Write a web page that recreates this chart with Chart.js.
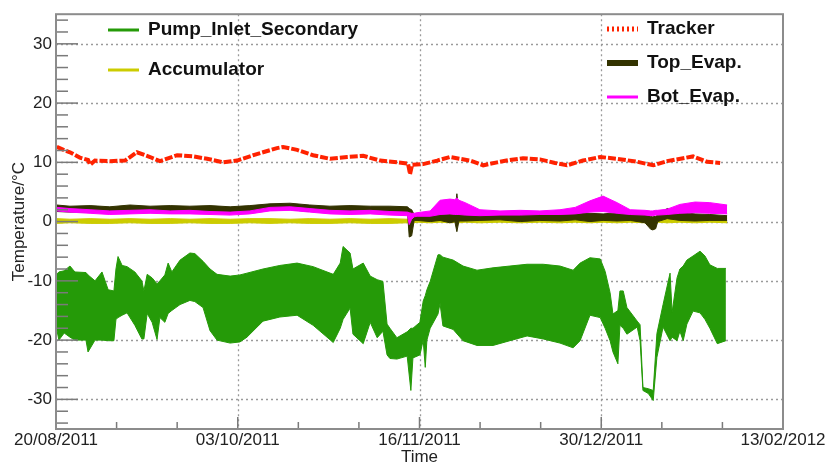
<!DOCTYPE html>
<html>
<head>
<meta charset="utf-8">
<script src="https://cdn.jsdelivr.net/npm/chart.js@4.4.1/dist/chart.umd.min.js"></script>
<style>
html, body { margin: 0; padding: 0; background: #fff; }
#wrap { width: 827px; height: 466px; }
</style>
</head>
<body>
<div id="wrap"><canvas id="temps"></canvas></div>
<script>
// x values are days since 20/08/2011
const xTickDays = [0, 44.25, 88.5, 132.75, 177];
const xTickLabels = ['20/08/2011', '03/10/2011', '16/11/2011', '30/12/2011', '13/02/2012'];
const yTicks = [-30, -20, -10, 0, 10, 20, 30];

// Pump_Inlet_Secondary: upper and lower edge of the oscillating band
const pumpDays = [
  0.0, 0.7, 2.0, 3.4, 4.6, 7.3, 7.8, 9.5, 11.2, 12.7,
  14.1, 14.6, 15.1, 16.1, 17.3, 19.2, 20.9, 21.4, 22.2, 23.4,
  24.6, 25.3, 26.5, 27.3, 28.2, 30.2, 32.6, 33.8, 35.8, 37.5,
  39.2, 42.4, 44.8, 46.5, 50.4, 54.5, 58.7, 62.6, 67.5, 69.2,
  69.9, 71.6, 72.3, 74.8, 76.5, 78.2, 79.6, 80.6, 81.3, 83.0,
  85.5, 86.4, 86.9, 88.6, 89.4, 89.9, 90.3, 91.1, 93.0, 93.5,
  94.2, 96.7, 99.1, 102.5, 106.4, 110.5, 114.7, 118.6, 122.7, 125.9,
  127.6, 130.0, 132.5, 133.7, 134.9, 135.6, 136.8, 137.3, 138.1, 139.0,
  141.5, 142.2, 142.9, 144.2, 145.4, 146.3, 147.8, 149.5, 150.0, 151.2,
  151.9, 152.7, 153.6, 155.1, 156.8, 158.0, 159.2, 161.0, 163.1
];
const pumpHigh = [
  -9.0, -8.5, -8.3, -7.5, -8.5, -8.6, -9.0, -10.0, -8.5, -11.5,
  -11.7, -8.0, -5.9, -7.4, -7.6, -8.5, -10.0, -11.7, -8.9, -9.5,
  -10.5, -10.0, -9.0, -7.0, -8.5, -6.5, -5.3, -5.4, -6.7, -8.0,
  -8.9, -9.2, -9.0, -8.7, -8.0, -7.4, -7.0, -7.6, -8.9, -7.0,
  -4.2, -5.3, -8.0, -7.0, -9.2, -9.8, -10.1, -17.3, -18.0, -19.6,
  -18.6, -18.0, -18.0, -17.0, -13.4, -12.5, -11.5, -10.1, -5.6, -5.6,
  -6.0, -6.5, -7.5, -8.2, -7.8, -7.5, -7.2, -7.2, -7.5, -8.2,
  -7.0, -6.1, -6.3, -8.4, -12.0, -15.6, -15.0, -11.7, -11.7, -14.5,
  -16.8, -17.4, -28.0, -28.2, -28.5, -18.9, -14.0, -8.7, -15.3, -9.5,
  -8.0, -7.5, -6.5, -5.8, -5.0, -5.8, -7.3, -7.9, -7.9
];
const pumpLow = [
  -17.5, -20.0, -18.8, -19.5, -20.0, -20.0, -22.0, -20.0, -20.0, -20.1,
  -20.1, -16.5, -16.2, -15.8, -15.4, -17.5, -19.8, -19.8, -15.5, -17.0,
  -19.9, -16.2, -17.0, -15.5, -15.0, -14.0, -13.3, -13.5, -14.5, -18.4,
  -20.0, -20.5, -20.3, -19.5, -16.8, -16.1, -15.8, -17.5, -20.4, -18.0,
  -16.5, -14.6, -19.0, -20.6, -17.0, -19.6, -18.5, -22.5, -23.1, -23.2,
  -22.7, -28.5, -23.0, -22.5, -20.0, -24.6, -20.0, -18.0, -15.6, -13.8,
  -17.6, -18.2, -20.1, -20.9, -20.9, -20.1, -19.3, -19.8, -20.5, -21.3,
  -20.1, -15.8, -16.2, -18.0, -20.1, -22.0, -24.0, -17.5, -18.0, -19.0,
  -17.8, -20.1, -28.5, -29.0, -30.2, -22.9, -17.8, -20.1, -19.5, -20.1,
  -18.5, -20.1, -17.3, -15.1, -15.4, -16.5, -18.0, -20.6, -20.1
];

// Tracker
const trackerDays = [
  0.2, 2.2, 3.4, 5.8, 7.8, 8.3, 9.5, 13.1, 16.8, 19.7,
  22.9, 25.3, 29.5, 33.4, 36.8, 40.7, 44.1, 48.9, 53.8, 55.3,
  58.7, 62.6, 66.7, 70.9, 74.8, 78.9, 83.0, 85.7, 86.2, 86.7,
  89.4, 92.8, 95.9, 100.8, 104.0, 107.4, 110.5, 113.7, 117.8, 121.5,
  124.4, 128.3, 132.5, 136.6, 141.5, 145.4, 148.8, 152.7, 155.1, 158.5,
  161.7
];
const trackerTemp = [
  12.6, 12.0, 11.7, 10.8, 10.4, 9.6, 10.3, 10.2, 10.3, 11.7,
  10.9, 10.2, 11.2, 11.0, 10.6, 10.0, 10.3, 11.4, 12.4, 12.6,
  12.1, 11.2, 10.6, 10.9, 11.1, 10.3, 10.0, 9.8, 8.0, 9.6,
  9.7, 10.3, 10.9, 10.3, 9.5, 10.0, 10.4, 10.7, 10.5, 9.9,
  9.5, 10.3, 10.9, 10.6, 10.1, 9.5, 10.2, 10.7, 11.0, 10.1,
  9.9
];

// Top_Evap., Bot_Evap. and Accumulator: noisy bands, shared day grid
const evapDays = [
  0.2, 3.4, 8.3, 13.1, 18.0, 22.9, 27.8, 32.6, 37.5, 42.4,
  47.2, 52.1, 57.0, 61.8, 66.7, 71.6, 76.5, 81.3, 85.6, 86.0,
  86.6, 87.2, 87.9, 91.1, 93.5, 95.9, 97.1, 97.6, 98.1, 99.6,
  103.2, 108.1, 113.0, 117.8, 122.7, 126.4, 130.0, 133.2, 136.6, 139.8,
  143.4, 144.8, 145.3, 146.0, 146.5, 148.8, 151.9, 155.6, 159.2, 163.4
];
const topEvapHigh = [
  2.8, 2.6, 2.7, 2.5, 2.8, 2.6, 2.7, 2.6, 2.7, 2.5,
  2.7, 3.0, 3.1, 2.8, 2.6, 2.7, 2.6, 2.6, 2.5, 2.2,
  2.0, 1.2, 1.0, 1.2, 1.3, 1.2, 1.4, 4.7, 1.5, 1.4,
  1.2, 1.5, 1.3, 1.4, 1.3, 1.5, 1.4, 1.3, 1.5, 1.3,
  1.2, 0.9, 0.8, 0.9, 1.1, 2.2, 1.6, 1.3, 1.2, 1.0
];
const topEvapLow = [
  1.7, 1.6, 1.6, 1.5, 1.6, 1.6, 1.5, 1.6, 1.5, 1.4,
  1.6, 1.9, 2.0, 1.7, 1.6, 1.5, 1.5, 1.5, 1.4, -2.6,
  -2.4, 0.2, 0.2, 0.0, 0.2, -0.2, 0.0, -1.7, 0.1, 0.1,
  0.2, 0.3, 0.0, 0.2, 0.1, 0.3, 0.0, 0.2, 0.1, 0.2,
  -0.2, -1.3, -1.4, -1.2, 0.0, 0.5, 0.2, 0.1, 0.2, 0.2
];
const botEvapHigh = [
  2.4, 2.2, 2.0, 1.8, 1.9, 2.0, 1.8, 1.9, 1.7, 1.6,
  1.8, 2.4, 2.5, 2.2, 1.9, 1.8, 1.9, 1.7, 1.6, 1.5,
  1.4, 1.4, 1.5, 1.8, 3.6, 3.8, 3.7, 4.0, 3.6, 3.2,
  2.0, 1.8, 1.9, 1.8, 2.0, 2.4, 3.5, 4.3, 3.2, 2.0,
  1.9, 1.8, 1.8, 1.9, 1.9, 2.1, 2.9, 3.3, 3.2, 2.8
];
const botEvapLow = [
  1.8, 1.6, 1.4, 1.2, 1.3, 1.4, 1.3, 1.3, 1.2, 1.1,
  1.3, 1.8, 1.9, 1.6, 1.3, 1.2, 1.3, 1.1, 1.0, -0.5,
  0.4, 0.8, 0.9, 0.9, 1.2, 1.3, 1.2, 1.2, 1.2, 1.1,
  1.0, 1.1, 1.1, 1.2, 1.2, 1.3, 1.6, 1.7, 1.4, 1.2,
  1.1, 1.0, 1.0, 1.1, 1.1, 1.2, 1.4, 1.5, 1.4, 1.3
];
const accumHigh = [
  0.5, 0.4, 0.5, 0.4, 0.5, 0.4, 0.5, 0.4, 0.5, 0.4,
  0.5, 0.5, 0.4, 0.5, 0.4, 0.5, 0.4, 0.5, 0.4, 0.4,
  0.4, 0.5, 0.6, 0.6, 0.7, 0.6, 0.6, 0.6, 0.7, 0.6,
  0.6, 0.7, 0.6, 0.7, 0.6, 0.6, 0.7, 0.6, 0.6, 0.6,
  0.5, 0.5, 0.6, 0.6, 0.7, 0.6, 0.7, 0.6, 0.7, 0.6
];
const accumLow = [
  -0.3, -0.2, -0.3, -0.3, -0.2, -0.3, -0.3, -0.2, -0.3, -0.3,
  -0.2, -0.3, -0.2, -0.3, -0.3, -0.2, -0.3, -0.3, -0.2, -0.3,
  -0.3, -0.2, -0.1, -0.2, -0.1, -0.2, -0.1, -0.2, -0.2, -0.1,
  -0.2, -0.1, -0.2, -0.1, -0.2, -0.1, -0.2, -0.1, -0.2, -0.1,
  -0.2, -0.2, -0.1, -0.2, -0.1, -0.2, -0.1, -0.2, -0.1, -0.2
];

const GREEN = '#259a08';
const RED = '#ff2200';
const YELLOW = '#cccc00';
const DARK = '#333300';
const MAGENTA = '#ff00ff';
const FONT = '"Liberation Sans", Arial, Helvetica, sans-serif';

const pts = (xs, ys) => xs.map((x, i) => ({ x: x, y: ys[i] }));

// band = upper edge filled down to the next dataset (lower edge)
function band(xs, hi, lo, color) {
  const common = { borderColor: color, backgroundColor: color, borderWidth: 1, pointRadius: 0, tension: 0 };
  return [
    Object.assign({ data: pts(xs, hi), fill: '+1' }, common),
    Object.assign({ data: pts(xs, lo), fill: false }, common)
  ];
}

// ROOT-like frame, dotted grid, inner tick marks, legend and axis titles
const rootStyle = {
  id: 'rootStyle',
  beforeDatasetsDraw(chart) {
    const { ctx, chartArea: a, scales: { x, y } } = chart;
    ctx.save();
    ctx.strokeStyle = '#9a9a9a';
    ctx.lineWidth = 1.3;
    ctx.setLineDash([2, 3]);
    xTickDays.slice(1, -1).forEach(d => {
      const px = Math.round(x.getPixelForValue(d)) + 0.5;
      ctx.beginPath(); ctx.moveTo(px, a.top); ctx.lineTo(px, a.bottom); ctx.stroke();
    });
    yTicks.forEach(v => {
      const py = Math.round(y.getPixelForValue(v)) + 0.5;
      ctx.beginPath(); ctx.moveTo(a.left, py); ctx.lineTo(a.right, py); ctx.stroke();
    });
    ctx.restore();
  },
  afterDatasetsDraw(chart) {
    const { ctx, chartArea: a, scales: { x, y } } = chart;
    ctx.save();
    ctx.strokeStyle = '#7a7a7a';
    ctx.lineWidth = 1.5;
    // x ticks
    const step = xTickDays[1] - xTickDays[0];
    for (let i = 0; i < xTickDays.length - 1; i++) {
      for (let k = 0; k < 3; k++) {
        const px = x.getPixelForValue(xTickDays[i] + k * step / 3);
        const len = k === 0 ? 12 : 7;
        ctx.beginPath(); ctx.moveTo(px, a.bottom); ctx.lineTo(px, a.bottom - len); ctx.stroke();
      }
    }
    // y ticks
    for (let v = -34; v <= 34; v += 2) {
      const py = y.getPixelForValue(v);
      const len = v % 10 === 0 ? 22 : 12;
      ctx.beginPath(); ctx.moveTo(a.left, py); ctx.lineTo(a.left + len, py); ctx.stroke();
    }
    // frame
    ctx.strokeStyle = '#8c8c8c';
    ctx.lineWidth = 2;
    ctx.strokeRect(a.left, a.top, a.right - a.left, a.bottom - a.top);

    // legend
    const entry = (x1, yy, color, width, dash, label) => {
      ctx.save();
      ctx.strokeStyle = color;
      ctx.lineWidth = width;
      ctx.setLineDash(dash);
      ctx.beginPath(); ctx.moveTo(x1, yy); ctx.lineTo(x1 + 31, yy); ctx.stroke();
      ctx.restore();
      ctx.fillStyle = '#111';
      ctx.font = 'bold 19px ' + FONT;
      ctx.textBaseline = 'middle';
      ctx.textAlign = 'left';
      ctx.fillText(label, x1 + 40, yy);
    };
    entry(108, 30, GREEN, 3, [], 'Pump_Inlet_Secondary');
    entry(108, 70, YELLOW, 3, [], 'Accumulator');
    entry(607, 29, RED, 5, [2, 3], 'Tracker');
    entry(607, 63, DARK, 6, [], 'Top_Evap.');
    entry(607, 97, MAGENTA, 3, [], 'Bot_Evap.');

    // axis titles
    ctx.fillStyle = '#222';
    ctx.font = '17px ' + FONT;
    ctx.textAlign = 'center';
    ctx.textBaseline = 'middle';
    ctx.fillText('Time', (a.left + a.right) / 2, 457);
    ctx.translate(19, (a.top + a.bottom) / 2);
    ctx.rotate(-Math.PI / 2);
    ctx.fillText('Temperature/\u00b0C', 0, 0);
    ctx.restore();
  }
};

Chart.defaults.font.family = FONT;

const datasets = [
  { data: pts(trackerDays, trackerTemp), borderColor: RED, borderWidth: 4, borderDash: [8, 2],
    pointRadius: 0, tension: 0, fill: false },
  ...band(evapDays, botEvapHigh, botEvapLow, MAGENTA),
  ...band(evapDays, topEvapHigh, topEvapLow, DARK),
  ...band(evapDays, accumHigh, accumLow, YELLOW),
  ...band(pumpDays, pumpHigh, pumpLow, GREEN)
];

new Chart(document.getElementById('temps'), {
  type: 'line',
  data: { datasets: datasets },
  options: {
    responsive: true,
    maintainAspectRatio: false,
    animation: false,
    layout: { padding: { top: 12, right: 44, left: 0, bottom: 0 } },
    plugins: { legend: { display: false }, tooltip: { enabled: false } },
    scales: {
      x: {
        type: 'linear',
        min: 0,
        max: 177,
        afterBuildTicks: s => { s.ticks = xTickDays.map(v => ({ value: v })); },
        afterFit: s => { s.height = 37; },
        grid: { display: false, drawTicks: false },
        border: { display: false },
        ticks: {
          autoSkip: false, maxRotation: 0, padding: 1,
          color: '#222', font: { size: 17 },
          callback: (v, i) => xTickLabels[i]
        }
      },
      y: {
        type: 'linear',
        min: -35,
        max: 35,
        afterBuildTicks: s => { s.ticks = yTicks.map(v => ({ value: v })); },
        afterFit: s => { s.width = 56; },
        grid: { display: false, drawTicks: false },
        border: { display: false },
        ticks: {
          padding: 4, color: '#222', font: { size: 17 },
          callback: v => String(v)
        }
      }
    }
  },
  plugins: [rootStyle]
});
</script>
</body>
</html>
